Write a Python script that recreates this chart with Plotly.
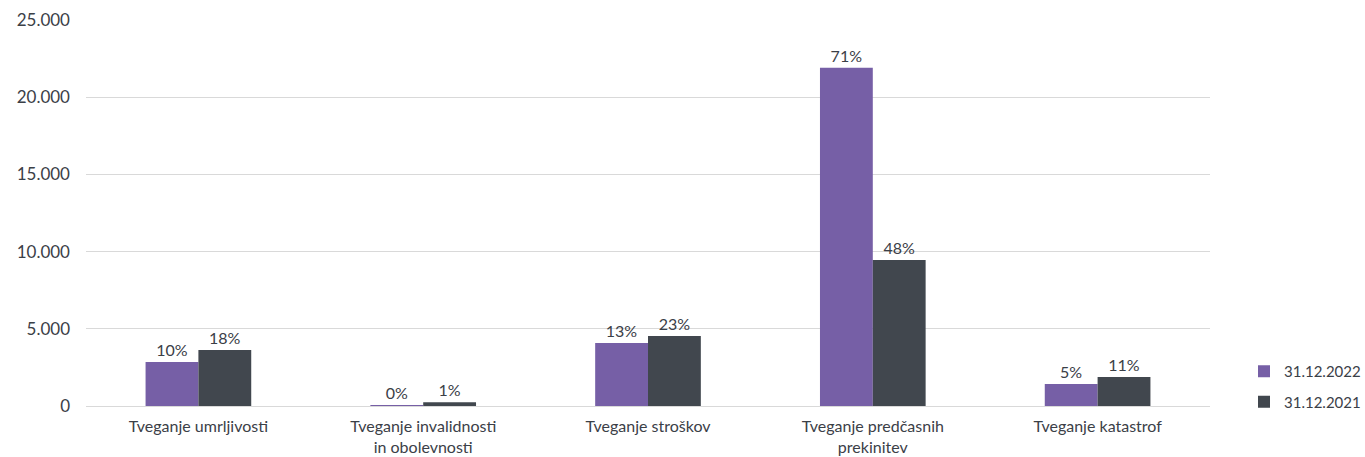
import plotly.graph_objects as go

categories = [
    "Tveganje umrljivosti",
    "Tveganje invalidnosti<br>in obolevnosti",
    "Tveganje stroškov",
    "Tveganje predčasnih<br>prekinitev",
    "Tveganje katastrof",
]
values_2022 = [2850, 60, 4080, 21900, 1420]
values_2021 = [3620, 250, 4530, 9460, 1880]
shares_2022 = ["10%", "0%", "13%", "71%", "5%"]
shares_2021 = ["18%", "1%", "23%", "48%", "11%"]
y_ticks = [0, 5000, 10000, 15000, 20000, 25000]

PURPLE = "#765fa6"
DARK = "#41474e"
TEXT = "#3b4047"
FONT = "Lato"

fig = go.Figure()
fig.add_trace(go.Bar(
    name="31.12.2022", x=categories, y=values_2022, legendgroup="a",
    marker=dict(color=PURPLE, line=dict(width=0)),
    text=shares_2022, textposition="outside", cliponaxis=False,
    textfont=dict(size=16, color=TEXT, family=FONT),
))
fig.add_trace(go.Bar(
    name="31.12.2021", x=categories, y=values_2021, legendgroup="b",
    marker=dict(color=DARK, line=dict(width=0)),
    text=shares_2021, textposition="outside", cliponaxis=False,
    textfont=dict(size=16, color=TEXT, family=FONT),
))

fig.update_layout(
    width=1365, height=457,
    margin=dict(l=86, r=155, t=20, b=51, autoexpand=False),
    paper_bgcolor="white", plot_bgcolor="white",
    barmode="group", bargap=0.53, bargroupgap=0,
    separators=",.",
    font=dict(family=FONT, size=16, color=TEXT),
    showlegend=True,
    legend=dict(
        xref="container", yref="container",
        x=1244 / 1365, xanchor="left", y=1 - 355 / 457, yanchor="top",
        font=dict(size=15, color=TEXT, family=FONT),
        itemsizing="constant", tracegroupgap=8,
        bgcolor="rgba(0,0,0,0)",
    ),
    xaxis=dict(
        showline=False, ticks="", showgrid=False, automargin=False,
        ticklabelstandoff=9,
        tickfont=dict(size=16, color=TEXT, family=FONT),
    ),
    yaxis=dict(
        range=[0, 25000], tickvals=y_ticks, tickformat=",d",
        showgrid=True, gridcolor="#d9d9d9", gridwidth=1,
        zeroline=True, zerolinecolor="#d9d9d9", zerolinewidth=1,
        showline=False, ticks="", ticklabelstandoff=15, automargin=False,
        tickfont=dict(size=17, color=TEXT, family=FONT),
    ),
)

fig.write_html("out.html")
